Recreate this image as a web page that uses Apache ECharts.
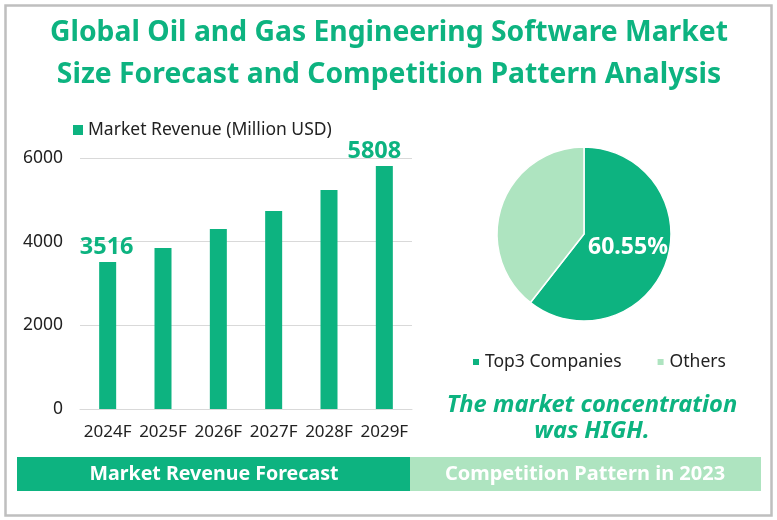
<!DOCTYPE html>
<html>
<head>
<meta charset="utf-8">
<title>Oil and Gas Engineering Software Market</title>
<script src="https://cdn.jsdelivr.net/npm/echarts@6/dist/echarts.min.js"></script>
<style>
  html, body { margin: 0; padding: 0; background: #fff; }
  #chart { width: 777px; height: 520px; }
</style>
</head>
<body>
<div id="chart"></div>
<script>
var years = ['2024F', '2025F', '2026F', '2027F', '2028F', '2029F'];
var revenue = [3516, 3849, 4303, 4733, 5235, 5808];
var labelledYears = ['2024F', '2029F'];
var shareNames = ['Top3 Companies', 'Others'];
var shareValues = [60.55, 39.45];
var yTicks = { min: 0, max: 6000, interval: 2000 };

var GREEN = '#0db380';
var LIGHT = '#aee4c0';
var FONT = '"Noto Sans", "Open Sans", sans-serif';

var chart = echarts.init(document.getElementById('chart'));

var barData = revenue.map(function (v, i) {
  if (labelledYears.indexOf(years[i]) < 0) return v;
  return {
    value: v,
    label: {
      show: true,
      position: 'top',
      distance: 3,
      // last label sits left of its bar in the original
      offset: i == years.length - 1 ? [-10, 0] : [-1, 0],
      color: GREEN,
      fontFamily: FONT,
      fontWeight: 'bold',
      fontSize: 23.5
    }
  };
});

var option = {
  animation: false,
  backgroundColor: '#fff',
  title: {
    text: 'Global Oil and Gas Engineering Software Market\nSize Forecast and Competition Pattern Analysis',
    left: 384,
    top: 7,
    textAlign: 'center',
    textStyle: { color: GREEN, fontFamily: FONT, fontWeight: 'bold', fontSize: 28.3, lineHeight: 42 }
  },
  legend: [
    {
      data: ['Market Revenue (Million USD)'],
      left: 68,
      top: 116,
      icon: 'rect',
      itemWidth: 10,
      itemHeight: 10,
      itemGap: 5,
      textStyle: { color: '#222', fontFamily: FONT, fontSize: 17.5, padding: [0, 0, 0, 0] }
    },
    {
      data: shareNames,
      left: 466,
      top: 348,
      icon: 'rect',
      itemWidth: 8,
      itemHeight: 8,
      itemGap: 34,
      textStyle: { color: '#222', fontFamily: FONT, fontSize: 17.5, padding: [0, 0, 0, 0] }
    }
  ],
  grid: { left: 80, top: 158, width: 332, height: 251, containLabel: false },
  xAxis: {
    type: 'category',
    data: years,
    axisLine: { lineStyle: { color: '#d9d9d9' } },
    axisTick: { show: false },
    axisLabel: { color: '#222', fontFamily: FONT, fontSize: 17, margin: 15, interval: 0 }
  },
  yAxis: {
    type: 'value',
    min: yTicks.min,
    max: yTicks.max,
    interval: yTicks.interval,
    axisLine: { show: false },
    axisTick: { show: false },
    axisLabel: {
      color: '#222',
      fontFamily: FONT,
      fontSize: 17.5,
      margin: 17,
      formatter: function (v) { return String(v); }
    },
    splitLine: { lineStyle: { color: '#d9d9d9' } }
  },
  series: [
    {
      name: 'Market Revenue (Million USD)',
      type: 'bar',
      data: barData,
      barWidth: 17,
      itemStyle: { color: GREEN }
    },
    {
      type: 'pie',
      center: [584, 234],
      radius: [0, 87],
      startAngle: 90,
      clockwise: true,
      data: [
        {
          name: shareNames[0],
          value: shareValues[0],
          itemStyle: { color: GREEN },
          label: {
            show: true,
            position: 'inside',
            offset: [0, -2],
            formatter: shareValues[0].toFixed(2) + '%',
            color: '#fff',
            fontFamily: FONT,
            fontWeight: 'bold',
            fontSize: 23
          }
        },
        {
          name: shareNames[1],
          value: shareValues[1],
          itemStyle: { color: LIGHT },
          label: { show: false }
        }
      ],
      itemStyle: { borderColor: '#fff', borderWidth: 1.5 },
      labelLine: { show: false },
      emphasis: { disabled: true }
    }
  ],
  graphic: [
    // outer frame
    { type: 'rect', z: -1, shape: { x: 5.5, y: 5.5, width: 766, height: 510 }, style: { fill: 'none', stroke: '#bfbfbf', lineWidth: 2.5 } },
    // bottom banners
    { type: 'rect', shape: { x: 17, y: 457, width: 393, height: 34 }, style: { fill: GREEN } },
    { type: 'rect', shape: { x: 410, y: 457, width: 351, height: 34 }, style: { fill: LIGHT } },
    { type: 'text', z: 5, style: { x: 214, y: 474, text: 'Market Revenue Forecast', fill: '#fff', font: 'bold 19.6px ' + FONT, textAlign: 'center', textVerticalAlign: 'middle' } },
    { type: 'text', z: 5, style: { x: 585, y: 474, text: 'Competition Pattern in 2023', fill: '#fff', font: 'bold 20px ' + FONT, textAlign: 'center', textVerticalAlign: 'middle' } },
    // conclusion
    { type: 'text', z: 5, style: { x: 592, y: 405, text: 'The market concentration', fill: GREEN, font: 'italic bold 23.7px ' + FONT, textAlign: 'center', textVerticalAlign: 'middle' } },
    { type: 'text', z: 5, style: { x: 592, y: 431, text: 'was HIGH.', fill: GREEN, font: 'italic bold 23.7px ' + FONT, textAlign: 'center', textVerticalAlign: 'middle' } }
  ]
};

chart.setOption(option);
</script>
</body>
</html>
